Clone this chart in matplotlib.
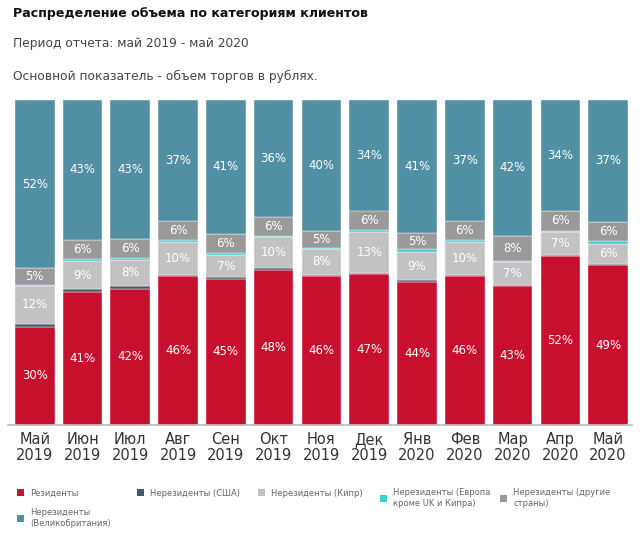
import matplotlib
matplotlib.use("Agg")
import matplotlib.pyplot as plt
import numpy as np
from matplotlib.patches import Patch

plt.rcParams['font.family'] = ['DejaVu Sans']

months = ["Май\n2019", "Июн\n2019", "Июл\n2019", "Авг\n2019", "Сен\n2019", "Окт\n2019",
          "Ноя\n2019", "Дек\n2019", "Янв\n2020", "Фев\n2020", "Мар\n2020", "Апр\n2020", "Май\n2020"]

residents = [30.3, 41.0, 42.0, 46.0, 45.0, 47.8, 46.0, 46.6, 44.0, 46.0, 42.8, 52.0, 49.2]
usa       = [0.8, 0.7, 0.8, 0.3, 0.4, 0.5, 0.3, 0.3, 0.5, 0.3, 0.3, 0.3, 0.4]
cyprus    = [11.8, 8.8, 8.0, 10.0, 7.0, 9.6, 8.0, 12.6, 8.8, 10.0, 7.0, 7.0, 6.2]
europe    = [0.2, 0.5, 0.5, 0.6, 0.4, 0.3, 0.3, 0.6, 0.8, 0.6, 0.5, 0.5, 0.8]
other     = [5.1, 6.0, 6.0, 6.0, 6.0, 5.8, 5.0, 5.9, 5.0, 6.0, 7.6, 6.0, 6.0]
uk        = [51.8, 43.0, 42.7, 37.1, 41.2, 36.0, 40.4, 34.0, 40.9, 37.1, 41.8, 34.2, 37.4]

series = [
    ("Резиденты", residents, "#C8102E"),
    ("Нерезиденты (США)", usa, "#4B5966"),
    ("Нерезиденты (Кипр)", cyprus, "#C2C2C2"),
    ("Нерезиденты (Европа\nкроме UK и Кипра)", europe, "#3CCFCF"),
    ("Нерезиденты (другие\nстраны)", other, "#9A9A9A"),
    ("Нерезиденты\n(Великобритания)", uk, "#508FA4"),
]

# legend entry anchors (px: left of square, vertical centre)
legend_pos = [(17, 493), (137, 493), (258, 493), (380, 498), (500, 498), (17, 518)]

fig = plt.figure(figsize=(6.4, 5.33), dpi=100)
ax = fig.add_axes([8 / 640, 108 / 533, 624 / 640, 325 / 533])

x = np.arange(len(months))
bottom = np.zeros(len(months))
for name, vals, color in series:
    vals = np.array(vals)
    ax.bar(x, vals, width=0.83, bottom=bottom, color=color,
           edgecolor="white", linewidth=0.3)
    for xi, b, v in zip(x, bottom, vals):
        if v >= 4.5:
            ax.text(xi, b + v / 2, "%d%%" % round(v), ha="center", va="center",
                    color="white", fontsize=8.5)
    bottom += vals

ax.set_xlim(-0.56, 12.5)
ax.set_ylim(0, 100)
ax.set_xticks(x)
ax.set_xticklabels(months, fontsize=10.5, color="#333333", linespacing=1.05)
ax.tick_params(axis="x", length=0, pad=5)
ax.set_yticks([])
for s in ["top", "right", "left"]:
    ax.spines[s].set_visible(False)
ax.spines["bottom"].set_color("#BBBBBB")
ax.spines["bottom"].set_linewidth(1.2)

fig.text(13 / 640, 1 - 14 / 533, "Распределение объема по категориям клиентов",
         fontsize=9.1, fontweight="bold", color="#111111", va="center")
fig.text(13 / 640, 1 - 44 / 533, "Период отчета: май 2019 - май 2020",
         fontsize=8.8, color="#444444", va="center")
fig.text(13 / 640, 1 - 76 / 533, "Основной показатель - объем торгов в рублях.",
         fontsize=8.8, color="#444444", va="center")

for (name, vals, color), (px, py) in zip(series, legend_pos):
    h = Patch(facecolor=color, edgecolor="none")
    leg = fig.legend([h], [name], loc="center left",
                     bbox_to_anchor=(px / 640, 1 - py / 533),
                     frameon=False, fontsize=6, handlelength=0.85,
                     handleheight=0.85, handletextpad=0.75,
                     borderpad=0, borderaxespad=0)
    for t in leg.get_texts():
        t.set_color("#666666")

fig.savefig("out.png", dpi=100)
